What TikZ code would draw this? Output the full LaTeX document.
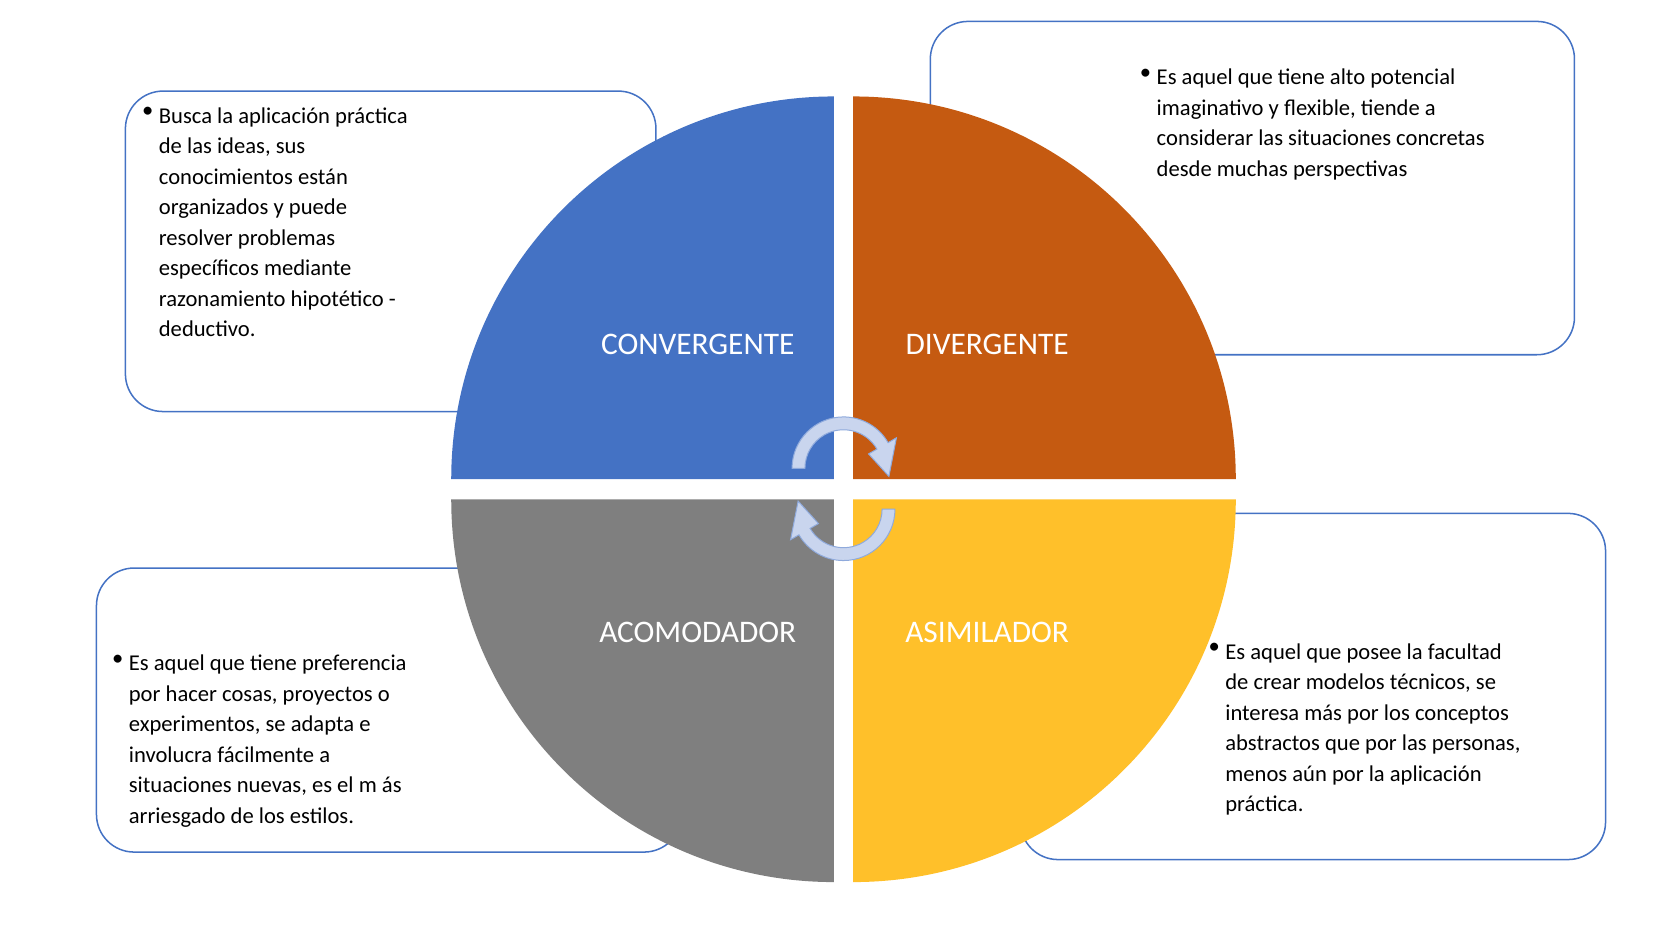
\documentclass[tikz,border=0pt]{standalone}
\usepackage{fontspec}
\setmainfont{Carlito}
\usepackage{tikz}
\definecolor{convblue}{HTML}{4472C4}
\definecolor{divorange}{HTML}{C55A11}
\definecolor{acogray}{HTML}{7F7F7F}
\definecolor{asiyellow}{HTML}{FFC02A}
\definecolor{arrowfill}{HTML}{C9D5EE}
\definecolor{arrowline}{HTML}{8FAADC}
\tikzset{
    descbox/.style={draw=convblue, line width=1.2pt, rounded corners=30, fill=white},
    desc/.style={anchor=north west, align=left, inner sep=0pt, font=\fontsize{18}{24.3}\selectfont},
    dot/.style={anchor=north east, inner sep=0pt, font=\fontsize{18}{24.3}\selectfont},
    quadlabel/.style={text=white, font=\fontsize{25}{30}\selectfont},
    cyclearrow/.style={fill=arrowfill, draw=arrowline, line width=0.8pt}
}
\begin{document}
\begin{tikzpicture}[x=0.3mm, y=0.3mm]
    \useasboundingbox (0,0) rectangle (1560,864);

    % description boxes (behind the circle)
    \draw[descbox] (117,480) rectangle (612,779);
    \draw[descbox] (868,533) rectangle (1469,844);
    \draw[descbox] (90,69) rectangle (636,334);
    \draw[descbox] (952,62) rectangle (1498,385);

    % the four quadrants
    \fill[convblue] (778,417) -- ++(-357,0) arc (180:90:357) -- cycle;
    \fill[divorange] (796,417) -- ++(0,357) arc (90:0:357) -- cycle;
    \fill[acogray] (778,398) -- ++(-357,0) arc (180:270:357) -- cycle;
    \fill[asiyellow] (796,398) -- ++(0,-357) arc (270:360:357) -- cycle;

    \node[quadlabel] (conv) at (651,543) {CONVERGENTE};
    \node[quadlabel] (div) at (921,543) {DIVERGENTE};
    \node[quadlabel] (aco) at (651,274) {ACOMODADOR};
    \node[quadlabel] (asi) at (921,274) {ASIMILADOR};

    % cycle arrows
    \coordinate (topc) at (787,427);
    \coordinate (botc) at (787,389);
    \draw[cyclearrow] ([shift={(180:48)}]topc) arc (180:30:48)
        -- ([shift={(30:57)}]topc) -- ([shift={(-10:43)}]topc)
        -- ([shift={(30:27)}]topc) -- ([shift={(30:36)}]topc)
        arc (30:180:36) -- cycle;
    \draw[cyclearrow] ([shift={(0:48)}]botc) arc (0:-150:48)
        -- ([shift={(-150:57)}]botc) -- ([shift={(170:43)}]botc)
        -- ([shift={(-150:27)}]botc) -- ([shift={(-150:36)}]botc)
        arc (-150:0:36) -- cycle;

    % texts
    \node[desc] (convtext) at (148,764) {Busca la aplicación práctica\\de las ideas, sus\\conocimientos están\\organizados y puede\\resolver problemas\\específicos mediante\\razonamiento hipotético -\\deductivo.};
    \node[dot] at ([xshift=-4]convtext.north west) {\textbullet};
    \node[desc] (divtext) at (1079,800) {Es aquel que tiene alto potencial\\imaginativo y flexible, tiende a\\considerar las situaciones concretas\\desde muchas perspectivas};
    \node[dot] at ([xshift=-4]divtext.north west) {\textbullet};
    \node[desc] (acotext) at (120,253) {Es aquel que tiene preferencia\\por hacer cosas, proyectos o\\experimentos, se adapta e\\involucra fácilmente a\\situaciones nuevas, es el m ás\\arriesgado de los estilos.};
    \node[dot] at ([xshift=-4]acotext.north west) {\textbullet};
    \node[desc] (asitext) at (1143,264) {Es aquel que posee la facultad\\de crear modelos técnicos, se\\interesa más por los conceptos\\abstractos que por las personas,\\menos aún por la aplicación\\práctica.};
    \node[dot] at ([xshift=-4]asitext.north west) {\textbullet};
\end{tikzpicture}
\end{document}
